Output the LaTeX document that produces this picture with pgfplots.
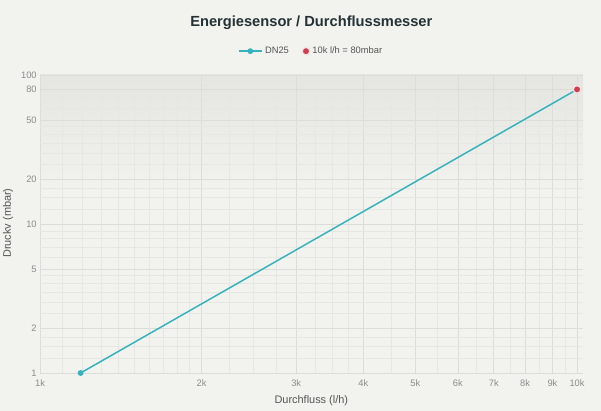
\documentclass[border=0pt]{standalone}
\usepackage{pgfplots}
\pgfplotsset{compat=1.18}
\usepackage{fontspec}
\setmainfont{Liberation Sans}
\definecolor{bg}{RGB}{242,242,238}
\definecolor{topgray}{RGB}{212,212,210}
\definecolor{gridmaj}{RGB}{220,220,216}
\definecolor{gridmin}{RGB}{230,230,226}
\definecolor{teal}{RGB}{52,178,190}
\definecolor{redpt}{RGB}{206,62,78}
\definecolor{titlec}{RGB}{36,50,54}
\definecolor{tickc}{RGB}{140,140,140}
\definecolor{labc}{RGB}{85,85,85}
\pgfdeclareverticalshading{plotbg}{100bp}{color(0bp)=(bg); color(55bp)=(bg); color(100bp)=(topgray)}
\begin{document}
\begin{tikzpicture}
\fill[bg] (0,0) rectangle (450.75pt,308.25pt);
\useasboundingbox (0,0) rectangle (450.75pt,308.25pt);
\begin{axis}[
  at={(30pt,28.5pt)}, anchor=south west,
  scale only axis, width=407.25pt, height=223.5pt,
  xmode=log, ymode=log,
  xmin=1000, xmax=10260, ymin=1, ymax=100,
  axis line style={draw=none},
  axis background/.style={shading=plotbg},
  xtick={1000,2000,3000,4000,5000,6000,7000,8000,9000,10000},
  xticklabels={1k,2k,3k,4k,5k,6k,7k,8k,9k,10k},
  ytick={1,2,5,10,20,50,80,100},
  yticklabels={1,2,5,10,20,50,80,100},
  minor xtick={1100,1200,1300,1400,1500,1600,1700,1800,1900,2250,2500,2750,3250,3500,3750,4500,5500,6500,7500,8500,9500},
  minor ytick={1.25,1.5,1.75,2.5,3,3.5,4,4.5,6,7,8,9,12.5,15,17.5,25,30,35,40,45,60,70,90},
  grid=both,
  major grid style={gridmaj, line width=0.5pt},
  minor grid style={gridmin, line width=0.4pt},
  tick style={draw=none},
  major tick length=0pt, minor tick length=0pt,
  tick label style={font=\fontsize{7}{8}\selectfont, text=tickc},
  /pgf/number format/assume math mode=true,
  xticklabel style={yshift=-1.5pt},
  yticklabel style={xshift=1pt},
  legend style={at={(axis description cs:0.5,1.08)}, anchor=center, draw=none, fill=none,
    font=\fontsize{7}{8}\selectfont, text=labc, legend columns=2,
    /tikz/every even column/.append style={column sep=8pt}},
  legend cell align=left,
  clip=false,
]
\addplot[teal, line width=1.1pt, mark=*, mark size=1.6pt, mark options={fill=teal, draw=teal}]
  coordinates {(1190,1) (10000,80)};
\addlegendentry{DN25}
\addplot[only marks, mark=*, mark size=2.8pt, mark options={fill=redpt, draw=white!85!redpt, line width=0.9pt}]
  coordinates {(10000,80)};
\addlegendentry{10k l/h = 80mbar}
\end{axis}
\node[font=\bfseries\fontsize{11}{13}\selectfont, text=titlec] at (233.5pt,291pt) {Energiesensor / Durchflussmesser};
\node[font=\fontsize{8.2}{10}\selectfont, text=labc] at (233.5pt,7.5pt) {Durchfluss (l/h)};
\node[font=\fontsize{8.2}{10}\selectfont, text=labc, rotate=90] at (6pt,141pt) {Druckv (mbar)};
\end{tikzpicture}
\end{document}
